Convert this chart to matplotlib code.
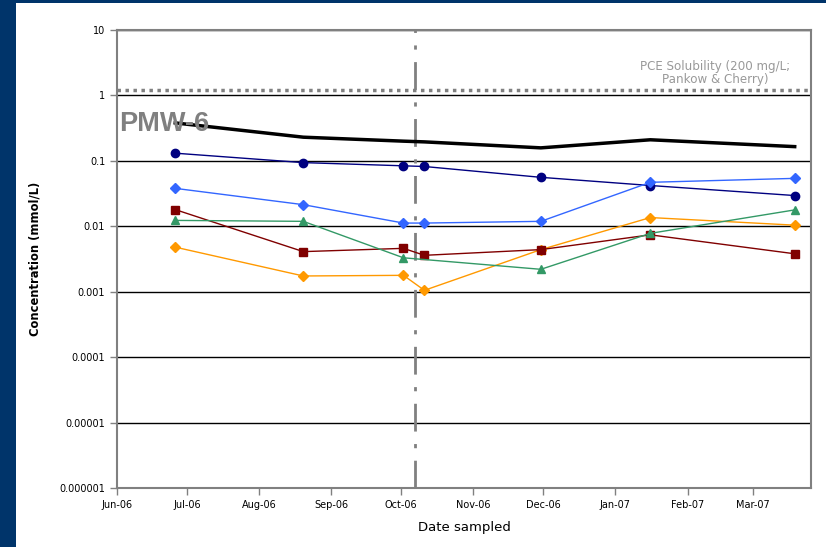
import matplotlib
matplotlib.use("Agg")
import matplotlib.pyplot as plt
import matplotlib.dates as mdates
import matplotlib.ticker as mticker
from matplotlib.patches import Rectangle
import datetime as dt

# sampling dates
fechas = [dt.date(2006, 6, 26), dt.date(2006, 8, 20), dt.date(2006, 10, 2),
          dt.date(2006, 10, 11), dt.date(2006, 11, 30), dt.date(2007, 1, 16),
          dt.date(2007, 3, 19)]

# concentrations (mmol/L), None = not sampled
total = [0.38, 0.23, 0.20, 0.195, 0.158, 0.21, 0.165]
serie_navy = [0.131, 0.094, 0.084, 0.082, 0.056, 0.042, 0.0295]
serie_azul = [0.038, 0.0214, 0.0112, 0.0112, 0.0119, 0.047, 0.054]
serie_roja = [0.018, 0.0041, 0.0046, 0.0036, 0.0044, 0.0074, 0.0038]
serie_verde = [0.0123, 0.0119, 0.0033, None, 0.0022, 0.0078, 0.0178]
serie_naranja = [0.0048, 0.00174, 0.00178, 0.00105, 0.0044, 0.0136, 0.0104]

solubilidad = 1.2  # 200 mg/L PCE
fecha_evento = dt.date(2006, 10, 7)

ticks_y = [1e-6, 1e-5, 1e-4, 1e-3, 1e-2, 1e-1, 1, 10]
etiquetas_y = ["0.000001", "0.00001", "0.0001", "0.001", "0.01", "0.1", "1", "10"]

W, H = 826, 547
fig = plt.figure(figsize=(W / 100, H / 100), dpi=100, facecolor="#00346a")
fig.patches.append(Rectangle((16 / W, 0), 1 - 16 / W, 1 - 3 / H,
                             transform=fig.transFigure, facecolor="white",
                             edgecolor="none", zorder=-10))

ax = fig.add_axes([117 / W, 1 - 488 / H, (811 - 117) / W, (488 - 30) / H])
ax.set_facecolor("white")


def dibuja(valores, **kw):
    x = [f for f, v in zip(fechas, valores) if v is not None]
    y = [v for v in valores if v is not None]
    ax.plot(x, y, **kw)


dibuja(total, color="black", lw=2.5, zorder=4)
dibuja(serie_navy, color="#000080", lw=1, marker="o", ms=6, zorder=5)
dibuja(serie_azul, color="#3366ff", lw=1, marker="D", ms=5, zorder=5)
dibuja(serie_roja, color="#800000", lw=1, marker="s", ms=6, zorder=5)
dibuja(serie_verde, color="#339966", lw=1, marker="^", ms=6, zorder=5)
dibuja(serie_naranja, color="#ff9900", lw=1, marker="D", ms=5, zorder=4)

ax.set_yscale("log")
ax.set_ylim(1e-6, 10)
ax.set_xlim(dt.date(2006, 6, 1), dt.date(2007, 3, 26))

ax.yaxis.set_major_locator(mticker.FixedLocator(ticks_y))
ax.yaxis.set_major_formatter(mticker.FixedFormatter(etiquetas_y))
ax.yaxis.set_minor_locator(mticker.NullLocator())
ax.xaxis.set_major_locator(mdates.MonthLocator())
ax.xaxis.set_major_formatter(mdates.DateFormatter("%b-%y"))

ax.grid(axis="y", color="black", lw=1)
ax.set_axisbelow(True)
for lado in ax.spines.values():
    lado.set_color("#808080")
    lado.set_linewidth(1.5)
ax.tick_params(colors="#808080", labelcolor="black", labelsize=7,
               length=5, width=1)

ax.axhline(solubilidad, color="#808080", lw=2.5, ls=(0, (1, 1.3)), zorder=3)
ax.axvline(fecha_evento, color="#808080", lw=2, ls=(0, (10, 4.5, 1.5, 4.5)), zorder=3)

# solubility note, centred above the dotted line
ax.annotate("PCE Solubility (200 mg/L;\nPankow & Cherry)",
            xy=(715 / W, 1 - 73 / H), xycoords="figure fraction",
            ha="center", va="center", fontsize=8.6, color="#999999",
            linespacing=1.05)
ax.text(0.003, 0.37, "PMW-6", transform=ax.get_yaxis_transform(),
        ha="left", va="center", fontsize=19.5, fontweight="bold",
        color="#808080", family="Liberation Sans", zorder=6)

ax.set_xlabel("Date sampled", fontsize=9.5, labelpad=8)
ax.set_ylabel("Concentration (mmol/L)", fontsize=8.3, fontweight="bold", labelpad=13)

fig.savefig("out.png", dpi=100, facecolor=fig.get_facecolor())
